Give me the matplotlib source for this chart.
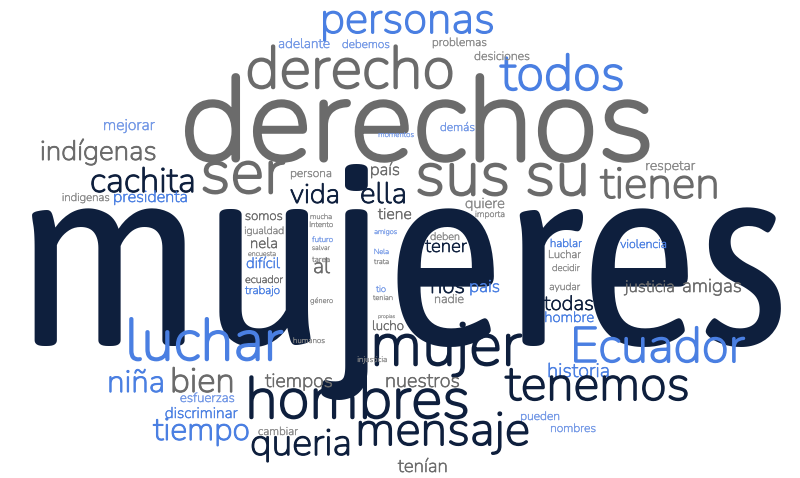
import matplotlib
matplotlib.use("Agg")
import matplotlib.pyplot as plt
from matplotlib import patheffects

plt.rcParams["font.family"] = ["Nunito", "Lato", "DejaVu Sans"]

# word and colour group (N navy, G gray, B blue, L light blue, g light gray)
words = [
    "mujeres", "derechos", "derecho", "personas", "todos",
    "adelante", "debemos", "problemas", "desiciones",
    "indígenas", "mejorar", "cachita", "ser", "indigenas", "presidenta",
    "momentos", "demás", "persona", "país", "vida", "ella", "sus", "su",
    "tienen", "respetar", "quiere", "importa", "somos", "mucha", "Intento",
    "tiene", "igualdad", "amigos", "nela", "encuesta", "futuro", "salvar",
    "tarea", "Nela", "trata", "difícil", "al", "deben", "tener", "hablar",
    "Luchar", "decidir", "violencia", "ecuador", "trabajo", "género", "tio",
    "tenian", "nos", "pais", "nadie", "ayudar", "justicia", "amigas",
    "todas", "propias", "hombre", "lucho", "humanos", "luchar", "mujer",
    "Ecuador", "injusticia", "niña", "bien", "tiempos", "nuestros",
    "historia", "hombres", "tenemos", "esfuerzas", "discriminar", "tiempo",
    "cambiar", "pueden", "nombres", "queria", "mensaje", "tenían",
]
tones = [
    "N", "G", "G", "B", "B",
    "L", "L", "g", "g",
    "G", "L", "N", "G", "g", "B",
    "L", "L", "g", "G", "N", "N", "G", "G",
    "G", "g", "g", "g", "G", "g", "g",
    "G", "g", "L", "G", "g", "L", "g",
    "g", "L", "g", "B", "G", "g", "N", "B",
    "g", "g", "B", "G", "B", "g", "L",
    "g", "N", "B", "g", "g", "G", "G",
    "N", "g", "B", "G", "g", "B", "N",
    "B", "g", "B", "G", "G", "G",
    "B", "N", "N", "L", "B", "B",
    "g", "L", "L", "N", "N", "G",
]

palette = {"N": "#0e1f3d", "G": "#6b6b6b", "B": "#4a7fe2",
           "L": "#7398e6", "g": "#8a8a8a"}

# layout: left edge, baseline, width (pixels)
boxes = [
    (15, 345, 775), (180, 160, 475), (245, 88, 210), (320, 33, 175), (500, 90, 125),
    (278, 48, 52), (342, 48, 48), (432, 46, 55), (474, 60, 56),
    (40, 160, 117), (103, 130, 52), (90, 192, 106), (200, 193, 85), (62, 201, 48), (113, 202, 75),
    (378, 137, 36), (440, 131, 35), (290, 177, 42), (370, 175, 30), (290, 203, 50), (360, 203, 47), (415, 195, 95), (525, 195, 65),
    (600, 198, 120), (645, 170, 50), (465, 208, 40), (475, 217, 30), (245, 220, 38), (310, 219, 22), (309, 227, 24),
    (378, 219, 34), (244, 234, 40), (374, 234, 23), (250, 248, 28), (248, 256, 28), (312, 242, 21), (312, 250, 18),
    (312, 262, 18), (374, 254, 15), (374, 264, 15), (246, 268, 34), (313, 273, 17), (430, 240, 30), (425, 252, 42), (550, 247, 32),
    (548, 258, 33), (552, 271, 28), (620, 248, 47), (245, 283, 38), (245, 294, 35), (310, 303, 23), (376, 292, 10),
    (373, 300, 20), (430, 293, 35), (469, 292, 31), (434, 303, 30), (549, 290, 31), (625, 292, 50), (682, 292, 60),
    (544, 310, 50), (378, 318, 17), (544, 322, 50), (372, 330, 32), (293, 343, 32), (125, 360, 158), (370, 365, 152),
    (570, 362, 175), (357, 362, 30), (107, 392, 58), (170, 392, 65), (265, 387, 68), (385, 387, 75),
    (547, 377, 63), (245, 418, 225), (505, 400, 185), (180, 402, 55), (165, 418, 73), (153, 440, 97),
    (258, 435, 40), (520, 420, 40), (550, 432, 46), (250, 455, 102), (355, 445, 175), (398, 472, 50),
]


def main():
    fig = plt.figure(figsize=(8, 4.78), dpi=100)
    ax = fig.add_axes([0, 0, 1, 1])
    ax.set_xlim(0, 800)
    ax.set_ylim(478, 0)
    ax.axis("off")
    renderer = fig.canvas.get_renderer()

    for i, (word, tone, (x, y, width)) in enumerate(zip(words, tones, boxes)):
        if i == 0:
            # the big word is drawn narrower than the rest in the reference
            family = ["Asap Condensed", "Lato"]
        else:
            family = ["Nunito", "Lato", "DejaVu Sans"]
        t = ax.text(x + width / 2, y, word, fontsize=20, family=family,
                    color=palette[tone], ha="center", va="baseline")
        bb = t.get_window_extent(renderer)
        size = 20 * width / bb.width
        t.set_fontsize(size)
        if i > 0:
            # thicken the light strokes a little
            t.set_path_effects([patheffects.withStroke(
                linewidth=0.03 * size, foreground=palette[tone])])

    fig.savefig("out.png", dpi=100)


if __name__ == "__main__":
    main()
